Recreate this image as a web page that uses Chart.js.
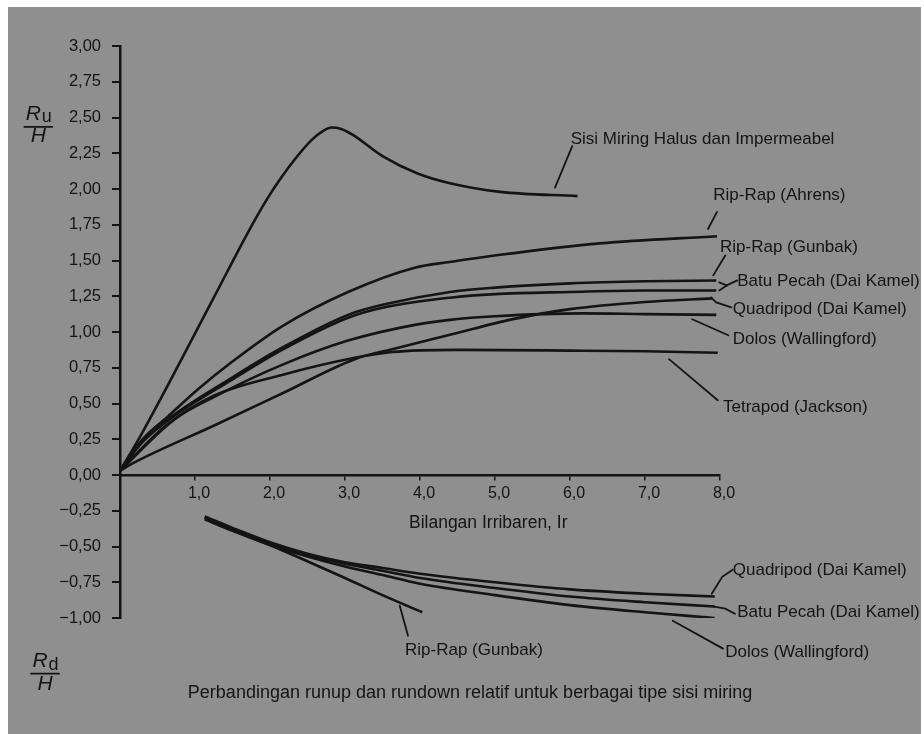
<!DOCTYPE html>
<html>
<head>
<meta charset="utf-8">
<script src="https://cdn.jsdelivr.net/npm/chart.js@4.4.1/dist/chart.umd.min.js"></script>
<style>
  html, body { margin: 0; padding: 0; background: #fff; }
  canvas { display: block; }
</style>
</head>
<body>
<canvas id="grafik" width="924" height="734"></canvas>
<script>
const tinta = "#141414";
const huruf = "'Liberation Sans', Arial, Helvetica, sans-serif";

// --- sumbu ---
const xTickValues = [1, 2, 3, 4, 5, 6, 7, 8];
const xTickLabels = ["1,0", "2,0", "3,0", "4,0", "5,0", "6,0", "7,0", "8,0"];
const yTickValues = [-1, -0.75, -0.5, -0.25, 0, 0.25, 0.5, 0.75, 1, 1.25, 1.5, 1.75, 2, 2.25, 2.5, 2.75, 3];
const yTickLabels = ["\u22121,00", "\u22120,75", "\u22120,50", "\u22120,25", "0,00", "0,25", "0,50", "0,75",
  "1,00", "1,25", "1,50", "1,75", "2,00", "2,25", "2,50", "2,75", "3,00"];

// --- runup (Ru/H) ---
const halusX = [0, 0.27, 1.24, 1.7, 1.95, 2.15, 2.35, 2.55, 2.72, 2.82, 2.95, 3.1, 3.5, 3.96, 4.4, 5.07, 6.1];
const halusY = [0.03, 0.27, 1.23, 1.69, 1.92, 2.08, 2.22, 2.34, 2.41, 2.43, 2.42, 2.38, 2.23, 2.11, 2.04, 1.98, 1.95];

const ahrensX = [0, 0.3, 0.64, 1.04, 1.49, 2.16, 3.04, 3.93, 4.4, 5.07, 6.4, 7.96];
const ahrensY = [0.03, 0.25, 0.41, 0.6, 0.79, 1.04, 1.28, 1.45, 1.49, 1.54, 1.62, 1.67];

const gunbakX = [0, 0.3, 0.69, 1.49, 2.16, 3.04, 3.5, 4.4, 5.0, 6.0, 7.0, 7.95];
const gunbakY = [0.03, 0.24, 0.41, 0.68, 0.89, 1.12, 1.19, 1.28, 1.31, 1.34, 1.355, 1.36];

const batuPecahX = [0, 0.3, 0.69, 1.49, 2.16, 3.04, 3.5, 4.4, 5.0, 6.0, 7.0, 7.95];
const batuPecahY = [0.03, 0.23, 0.4, 0.665, 0.875, 1.1, 1.17, 1.24, 1.265, 1.28, 1.29, 1.29];

const quadripodX = [0, 0.2, 1.27, 2.16, 3.13, 3.63, 4.4, 5.24, 6.0, 7.0, 7.9];
const quadripodY = [0.03, 0.09, 0.35, 0.57, 0.81, 0.88, 0.98, 1.09, 1.16, 1.21, 1.235];

const dolosX = [0, 0.73, 1.27, 2.16, 3.04, 3.93, 4.4, 5.0, 6.17, 7.0, 7.95];
const dolosY = [0.03, 0.39, 0.55, 0.77, 0.94, 1.05, 1.085, 1.11, 1.13, 1.125, 1.12];

const tetrapodX = [0, 0.6, 1.23, 2.16, 3.13, 3.63, 4.5, 6.0, 7.0, 7.97];
const tetrapodY = [0.03, 0.34, 0.55, 0.7, 0.82, 0.86, 0.875, 0.87, 0.865, 0.855];

// --- rundown (Rd/H) ---
const rundownX = [1.13, 1.5, 2.0, 2.5, 3.0, 3.5, 4.0, 5.0, 6.0, 7.0, 7.93];
const quadripodRdY = [-0.29, -0.37, -0.47, -0.55, -0.61, -0.65, -0.69, -0.75, -0.8, -0.83, -0.85];
const batuPecahRdY = [-0.3, -0.38, -0.48, -0.56, -0.62, -0.67, -0.72, -0.79, -0.85, -0.89, -0.92];
const dolosRdY = [-0.31, -0.39, -0.49, -0.57, -0.64, -0.7, -0.76, -0.84, -0.91, -0.96, -1.0];
const gunbakRdX = [1.13, 1.5, 2.0, 2.4, 3.0, 3.5, 4.03];
const gunbakRdY = [-0.3, -0.38, -0.49, -0.58, -0.72, -0.84, -0.96];

function kurva(nama, xs, ys) {
  return {
    label: nama,
    data: xs.map((v, i) => ({ x: v, y: ys[i] })),
    showLine: true,
    borderColor: tinta,
    borderWidth: 2.6,
    pointRadius: 0,
    cubicInterpolationMode: "monotone"
  };
}

const datasets = [
  kurva("Sisi Miring Halus dan Impermeabel", halusX, halusY),
  kurva("Rip-Rap (Ahrens)", ahrensX, ahrensY),
  kurva("Rip-Rap (Gunbak)", gunbakX, gunbakY),
  kurva("Batu Pecah (Dai Kamel)", batuPecahX, batuPecahY),
  kurva("Quadripod (Dai Kamel)", quadripodX, quadripodY),
  kurva("Dolos (Wallingford)", dolosX, dolosY),
  kurva("Tetrapod (Jackson)", tetrapodX, tetrapodY),
  kurva("Quadripod (Dai Kamel) Rd", rundownX, quadripodRdY),
  kurva("Batu Pecah (Dai Kamel) Rd", rundownX, batuPecahRdY),
  kurva("Dolos (Wallingford) Rd", rundownX, dolosRdY),
  kurva("Rip-Rap (Gunbak) Rd", gunbakRdX, gunbakRdY)
];

// keterangan: posisi teks dan garis penunjuk dalam satuan sumbu
const catatan = [
  { teks: "Sisi Miring Halus dan Impermeabel", di: [6.01, 2.345], garis: [[[6.03, 2.3], [5.8, 2.01]]] },
  { teks: "Rip-Rap (Ahrens)", di: [7.91, 1.954], garis: [[[7.96, 1.84], [7.84, 1.72]]] },
  { teks: "Rip-Rap (Gunbak)", di: [8.0, 1.59], garis: [[[8.07, 1.535], [7.91, 1.396]]] },
  { teks: "Batu Pecah (Dai Kamel)", di: [8.23, 1.354],
    garis: [[[8.23, 1.361], [8.09, 1.326]], [[8.09, 1.326], [7.99, 1.347]], [[8.09, 1.326], [7.99, 1.291]]] },
  { teks: "Quadripod (Dai Kamel)", di: [8.17, 1.158], garis: [[[8.15, 1.172], [7.95, 1.207], [7.88, 1.242]]] },
  { teks: "Dolos (Wallingford)", di: [8.17, 0.949], garis: [[[8.11, 0.977], [7.63, 1.089]]] },
  { teks: "Tetrapod (Jackson)", di: [8.04, 0.475], garis: [[[7.97, 0.523], [7.32, 0.81]]] },
  { teks: "Quadripod (Dai Kamel)", di: [8.17, -0.67], garis: [[[8.17, -0.663], [8.03, -0.712], [7.89, -0.83]]] },
  { teks: "Batu Pecah (Dai Kamel)", di: [8.23, -0.963], garis: [[[8.2, -0.97], [8.07, -0.935], [7.92, -0.921]]] },
  { teks: "Dolos (Wallingford)", di: [8.07, -1.242], garis: [[[8.04, -1.214], [7.37, -1.019]]] },
  { teks: "Rip-Rap (Gunbak)", di: [3.8, -1.228], garis: [[[3.84, -1.124], [3.73, -0.914]]] }
];

const latarPlugin = {
  id: "latar",
  beforeDraw(chart) {
    const ctx = chart.ctx;
    ctx.save();
    ctx.fillStyle = "#ffffff";
    ctx.fillRect(0, 0, chart.width, chart.height);
    ctx.fillStyle = "#8f8f8f";
    ctx.fillRect(8, 7, 913, 727);
    ctx.restore();
  }
};

function pecahan(ctx, cx, yAtas, yGaris, yBawah, huruf1, indeks) {
  ctx.font = "italic 21px " + huruf;
  const wR = ctx.measureText(huruf1).width;
  ctx.font = "18px " + huruf;
  const wI = ctx.measureText(indeks).width;
  const kiri = cx - (wR + wI) / 2;
  ctx.textAlign = "left";
  ctx.font = "italic 21px " + huruf;
  ctx.fillText(huruf1, kiri, yAtas);
  ctx.font = "18px " + huruf;
  ctx.fillText(indeks, kiri + wR + 1, yAtas + 3);
  ctx.lineWidth = 1.8;
  ctx.beginPath();
  ctx.moveTo(cx - 14, yGaris);
  ctx.lineTo(cx + 14, yGaris);
  ctx.stroke();
  ctx.font = "italic 21px " + huruf;
  ctx.textAlign = "center";
  ctx.fillText("H", cx, yBawah);
}

const catatanPlugin = {
  id: "catatan",
  afterDraw(chart) {
    const { ctx, scales: { x, y } } = chart;
    const P = (a, b) => [x.getPixelForValue(a), y.getPixelForValue(b)];
    ctx.save();
    ctx.fillStyle = tinta;
    ctx.strokeStyle = tinta;
    ctx.textBaseline = "middle";
    ctx.lineCap = "round";

    catatan.forEach(c => {
      const [tx, ty] = P(c.di[0], c.di[1]);
      ctx.font = "17px " + huruf;
      ctx.textAlign = "left";
      ctx.fillText(c.teks, tx, ty);
      ctx.lineWidth = 1.8;
      c.garis.forEach(jalur => {
        ctx.beginPath();
        jalur.forEach((p, k) => {
          const [px, py] = P(p[0], p[1]);
          if (k === 0) ctx.moveTo(px, py); else ctx.lineTo(px, py);
        });
        ctx.stroke();
      });
    });

    // judul sumbu x
    ctx.font = "17.5px " + huruf;
    ctx.textAlign = "center";
    let [ax, ay] = P(4.91, -0.335);
    ctx.fillText("Bilangan Irribaren, Ir", ax, ay);

    // keterangan gambar
    ctx.font = "18px " + huruf;
    [ax, ay] = P(4.667, -1.528);
    ctx.fillText("Perbandingan runup dan rundown relatif untuk berbagai tipe sisi miring", ax, ay);

    // Ru/H dan Rd/H
    const [c1x, r1y] = P(-1.09, 2.526);
    const [, g1y] = P(0, 2.435);
    const [, h1y] = P(0, 2.373);
    pecahan(ctx, c1x, r1y, g1y, h1y, "R", "u");
    const [c2x, r2y] = P(-1.0, -1.305);
    const [, g2y] = P(0, -1.389);
    const [, h2y] = P(0, -1.465);
    pecahan(ctx, c2x, r2y, g2y, h2y, "R", "d");
    ctx.restore();
  }
};

new Chart(document.getElementById("grafik"), {
  type: "scatter",
  data: { datasets: datasets },
  options: {
    responsive: false,
    animation: false,
    layout: { padding: { left: 60, right: 204, top: 46, bottom: 116 } },
    plugins: {
      legend: { display: false },
      tooltip: { enabled: false }
    },
    scales: {
      x: {
        type: "linear",
        min: 0,
        max: 8,
        position: { y: 0 },
        afterBuildTicks: s => { s.ticks = xTickValues.map(v => ({ value: v })); },
        ticks: {
          callback: (v, i) => xTickLabels[i],
          color: tinta,
          font: { family: huruf, size: 16 },
          padding: 5,
          labelOffset: 4,
          maxRotation: 0,
          autoSkip: false
        },
        grid: { drawOnChartArea: false, drawTicks: true, tickLength: 4, color: tinta, lineWidth: 1.5 },
        border: { display: true, color: tinta, width: 2.5 }
      },
      y: {
        type: "linear",
        min: -1,
        max: 3,
        position: "left",
        afterFit: s => { s.width = 60; },
        afterBuildTicks: s => { s.ticks = yTickValues.map(v => ({ value: v })); },
        ticks: {
          callback: (v, i) => yTickLabels[i],
          color: tinta,
          font: { family: huruf, size: 16.5 },
          padding: 11,
          autoSkip: false
        },
        grid: { drawOnChartArea: false, drawTicks: true, tickLength: 8, color: tinta, lineWidth: 2 },
        border: { display: true, color: tinta, width: 2.5 }
      }
    }
  },
  plugins: [latarPlugin, catatanPlugin]
});
</script>
</body>
</html>
